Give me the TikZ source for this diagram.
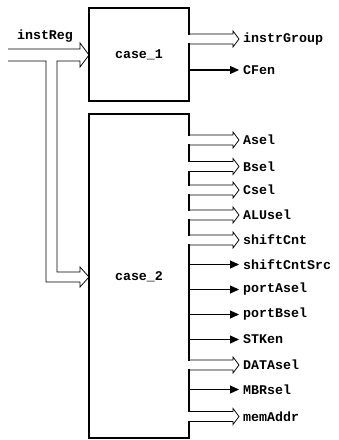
\documentclass[tikz,border=0pt]{standalone}
\usepackage{fontspec}
\setmonofont{Liberation Mono}
\usetikzlibrary{arrows.meta}
\tikzset{
  boxline/.style={line width=1.2pt, line cap=rect},
  bus/.style={line width=0.75pt, line join=miter},
  sig/.style={line width=1.2pt, -{Triangle[length=9pt,width=8pt]}},
  lab/.style={font=\ttfamily\bfseries\fontsize{13.3}{14}\selectfont, anchor=west, inner sep=0pt},
  title/.style={font=\ttfamily\bfseries\fontsize{13.3}{14}\selectfont, inner sep=0pt},
}
% output bus: #1 = y, #2 = node name, #3 = label
\newcommand\obus[3]{%
  \draw[bus] (189,#1-5) -- (233,#1-5) -- (233,#1-8) -- (239,#1) -- (233,#1+8) -- (233,#1+5) -- (189,#1+5);
  \node[lab] (#2) at (243,#1) {#3};
}
% output bit: #1 = y, #2 = node name, #3 = label
\newcommand\obit[3]{%
  \coordinate (#2s) at (189,#1);
  \node[lab] (#2) at (243,#1) {#3};
  \draw[sig] (#2s) -- ([xshift=-4pt]#2.west);
}
\begin{document}
\begin{tikzpicture}[x=1pt,y=-1pt]
\useasboundingbox (0,0) rectangle (339,440);

% box case_1
\node[title] (c1) at (139,55) {case\_1};
\draw[boxline] (189,34) -- (189,8) -- (89,8) -- (89,101) -- (189,101) -- (189,44);

% box case_2
\node[title] (c2) at (139,277) {case\_2};
\draw[boxline] (189,135) -- (189,114) -- (89,114) -- (89,438) -- (189,438) -- (189,421.5);
\draw[boxline] (189,145) -- (189,161.5);
\draw[boxline] (189,171.5) -- (189,185);
\draw[boxline] (189,195) -- (189,210);
\draw[boxline] (189,220) -- (189,235);
\draw[boxline] (189,245) -- (189,360);
\draw[boxline] (189,370) -- (189,411.5);

% input bus instReg
\node[title] (ir) at (45,36) {instReg};
\draw[bus] (8,49) -- (80,49) -- (80,43) -- (89,55) -- (80,67) -- (80,61) -- (57,61)
  -- (57,272) -- (80,272) -- (80,267) -- (89,277) -- (80,287) -- (80,282)
  -- (46,282) -- (46,61) -- (8,61);

% case_1 outputs
\obus{39}{ig}{instrGroup}
\obit{70}{cf}{CFen}

% case_2 outputs
\obus{140}{asel}{Asel}
\obus{166.5}{bsel}{Bsel}
\obus{190}{csel}{Csel}
\obus{215}{alusel}{ALUsel}
\obus{240}{shc}{shiftCnt}
\obit{264.5}{shcs}{shiftCntSrc}
\obit{289.5}{pa}{portAsel}
\obit{314.5}{pb}{portBsel}
\obit{339.5}{stk}{STKen}
\obus{365}{data}{DATAsel}
\obit{389.5}{mbr}{MBRsel}
\obus{416.5}{mem}{memAddr}
\end{tikzpicture}
\end{document}
